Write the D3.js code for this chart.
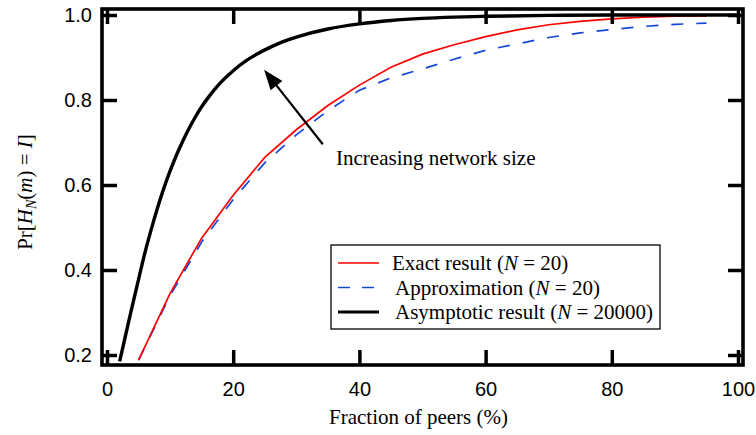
<!DOCTYPE html>
<html>
<head>
<meta charset="utf-8">
<script src="https://cdn.jsdelivr.net/npm/d3@7"></script>
<style>
  html, body { margin: 0; padding: 0; background: #fff; }
  svg { display: block; }
</style>
</head>
<body>
<svg id="chart" width="756" height="435"></svg>
<script>
// Fraction of peers (%) and probability values for each curve
const exactX = [5, 10, 15, 20, 25, 30, 35, 40, 45, 50, 55, 60, 65, 70, 75, 80, 85, 90, 95];
const exactY = [0.188, 0.345, 0.475, 0.576, 0.665, 0.73, 0.787, 0.835, 0.877, 0.908, 0.93, 0.949, 0.965, 0.977, 0.985, 0.991, 0.995, 0.997, 0.998];

const approxX = [5, 10, 15, 20, 25, 30, 35, 40, 45, 50, 55, 60, 65, 70, 75, 80, 85, 90, 95];
const approxY = [0.188, 0.34, 0.466, 0.566, 0.652, 0.718, 0.775, 0.823, 0.852, 0.873, 0.896, 0.917, 0.932, 0.947, 0.958, 0.966, 0.973, 0.978, 0.981];

const asymX = [2, 3, 4, 5, 6, 7, 8, 9, 10, 11, 12, 13, 14, 15, 16, 17, 18, 20, 22, 24, 26, 28, 30, 35, 40, 45, 50, 55, 60, 70, 80, 90, 100];
const asymY = [0.185, 0.25, 0.315, 0.378, 0.44, 0.495, 0.546, 0.592, 0.633, 0.67, 0.703, 0.733, 0.76, 0.784, 0.805, 0.824, 0.841, 0.869, 0.892, 0.91, 0.925, 0.938, 0.948, 0.967, 0.979, 0.987, 0.992, 0.995, 0.997, 0.999, 1.0, 1.0, 1.0];

const xTicks = [0, 20, 40, 60, 80, 100];
const yTicks = [0.2, 0.4, 0.6, 0.8, 1.0];

const legendLabels = ["Exact result", "Approximation", "Asymptotic result"];
const legendN = ["20", "20", "20000"];

// Annotation: arrow from tail to head, label anchor (data coordinates)
const arrowTail = [34.2, 0.696];
const arrowHead = [24.9, 0.871];
const noteAt = [36.3, 0.647];
const noteText = "Increasing network size";

// Layout
const frame = { left: 102, right: 743, top: 9, bottom: 365 };
const pad = { x: 5, top: 6, bottom: 10 };

const svg = d3.select("#chart");

const x = d3.scaleLinear().domain([0, 100])
  .range([frame.left + pad.x, frame.right - pad.x]);
const y = d3.scaleLinear().domain([0.2, 1.0])
  .range([frame.bottom - pad.bottom, frame.top + pad.top]);

const serif = "'Liberation Serif', 'Times New Roman', serif";
const sans = "'Liberation Sans', Arial, Helvetica, sans-serif";
const serifSize = 21;

// Curves
const line = d3.line().x(d => x(d[0])).y(d => y(d[1]));
const smooth = d3.line().x(d => x(d[0])).y(d => y(d[1])).curve(d3.curveMonotoneX);

const g = svg.append("g");

g.append("path")
  .datum(approxX.map((v, i) => [v, approxY[i]]))
  .attr("d", line)
  .attr("fill", "none")
  .attr("stroke", "#1448d8")
  .attr("stroke-width", 1.7)
  .attr("stroke-dasharray", "12,13");

g.append("path")
  .datum(exactX.map((v, i) => [v, exactY[i]]))
  .attr("d", line)
  .attr("fill", "none")
  .attr("stroke", "#ff0000")
  .attr("stroke-width", 1.7);

g.append("path")
  .datum(asymX.map((v, i) => [v, asymY[i]]))
  .attr("d", smooth)
  .attr("fill", "none")
  .attr("stroke", "#000")
  .attr("stroke-width", 3.4)
  .attr("stroke-linejoin", "round");

// Axes with inward ticks on all four sides
function styleAxis(sel) {
  sel.select(".domain").remove();
  sel.selectAll(".tick line").attr("stroke", "#000").attr("stroke-width", 3.5);
}

const tickLen = 15;

const xAxis = svg.append("g")
  .attr("transform", `translate(0,${frame.bottom})`)
  .call(d3.axisBottom(x).tickValues(xTicks).tickSizeInner(-tickLen).tickSizeOuter(0).tickPadding(17).tickFormat(d3.format("d")));
styleAxis(xAxis);
xAxis.selectAll(".tick text")
  .attr("font-family", sans).attr("font-size", 20).attr("fill", "#000");

const xTop = svg.append("g")
  .attr("transform", `translate(0,${frame.top})`)
  .call(d3.axisTop(x).tickValues(xTicks).tickSizeInner(-tickLen).tickSizeOuter(0).tickFormat(""));
styleAxis(xTop);

const yAxis = svg.append("g")
  .attr("transform", `translate(${frame.left},0)`)
  .call(d3.axisLeft(y).tickValues(yTicks).tickSizeInner(-tickLen).tickSizeOuter(0).tickPadding(10).tickFormat(d3.format(".1f")));
styleAxis(yAxis);
yAxis.selectAll(".tick text")
  .attr("font-family", sans).attr("font-size", 20).attr("fill", "#000");

const yRight = svg.append("g")
  .attr("transform", `translate(${frame.right},0)`)
  .call(d3.axisRight(y).tickValues(yTicks).tickSizeInner(-tickLen).tickSizeOuter(0).tickFormat(""));
styleAxis(yRight);

// Plot frame
svg.append("rect")
  .attr("x", frame.left).attr("y", frame.top)
  .attr("width", frame.right - frame.left).attr("height", frame.bottom - frame.top)
  .attr("fill", "none").attr("stroke", "#000").attr("stroke-width", 3.6);

// Axis titles
svg.append("text")
  .attr("x", (frame.left + frame.right) / 2 - 4)
  .attr("y", 424)
  .attr("text-anchor", "middle")
  .attr("font-family", serif).attr("font-size", serifSize).attr("fill", "#000")
  .text("Fraction of peers (%)");

const yl = svg.append("text")
  .attr("transform", `translate(32,${(frame.top + frame.bottom) / 2 + 5}) rotate(-90)`)
  .attr("text-anchor", "middle")
  .attr("font-family", serif).attr("font-size", serifSize).attr("fill", "#000");
yl.append("tspan").text("Pr[");
yl.append("tspan").attr("font-style", "italic").text("H");
yl.append("tspan").attr("font-style", "italic").attr("font-size", 14).attr("dy", 4).text("N");
yl.append("tspan").attr("dy", -4).text("(");
yl.append("tspan").attr("font-style", "italic").text("m");
yl.append("tspan").text(") = ");
yl.append("tspan").attr("font-style", "italic").text("I");
yl.append("tspan").text("]");

// Annotation arrow
const tail = [x(arrowTail[0]), y(arrowTail[1])];
const head = [x(arrowHead[0]), y(arrowHead[1])];
const ang = Math.atan2(head[1] - tail[1], head[0] - tail[0]);
const headLen = 20, headHalf = 7.5;
const base = [head[0] - headLen * Math.cos(ang), head[1] - headLen * Math.sin(ang)];
svg.append("line")
  .attr("x1", tail[0]).attr("y1", tail[1])
  .attr("x2", base[0] + 3 * Math.cos(ang)).attr("y2", base[1] + 3 * Math.sin(ang))
  .attr("stroke", "#000").attr("stroke-width", 2.2);
svg.append("path")
  .attr("d", d3.line()([
    head,
    [base[0] + headHalf * Math.sin(ang), base[1] - headHalf * Math.cos(ang)],
    [base[0] - headHalf * Math.sin(ang), base[1] + headHalf * Math.cos(ang)]
  ]) + "Z")
  .attr("fill", "#000");

svg.append("text")
  .attr("x", x(noteAt[0])).attr("y", y(noteAt[1]))
  .attr("font-family", serif).attr("font-size", serifSize).attr("fill", "#000")
  .text(noteText);

// Legend
const legend = { left: 331, top: 245, width: 329, height: 84, rowGap: 24.5, firstRow: 18 };
svg.append("rect")
  .attr("x", legend.left).attr("y", legend.top)
  .attr("width", legend.width).attr("height", legend.height)
  .attr("fill", "#fff").attr("stroke", "#000").attr("stroke-width", 1.3);

const legendStyles = [
  { color: "#ff0000", width: 1.7, dash: null },
  { color: "#1448d8", width: 1.7, dash: "12,12" },
  { color: "#000", width: 3.2, dash: null }
];
const textX = [392, 395, 395];

legendLabels.forEach((lab, i) => {
  const cy = legend.top + legend.firstRow + i * legend.rowGap;
  const ln = svg.append("line")
    .attr("x1", legend.left + 7).attr("x2", legend.left + 48)
    .attr("y1", cy).attr("y2", cy)
    .attr("stroke", legendStyles[i].color).attr("stroke-width", legendStyles[i].width);
  if (legendStyles[i].dash) ln.attr("stroke-dasharray", legendStyles[i].dash);
  const t = svg.append("text")
    .attr("x", textX[i]).attr("y", cy + 7)
    .attr("font-family", serif).attr("font-size", serifSize).attr("fill", "#000");
  t.append("tspan").text(lab + " (");
  t.append("tspan").attr("font-style", "italic").text("N");
  t.append("tspan").text(" = " + legendN[i] + ")");
});
</script>
</body>
</html>
